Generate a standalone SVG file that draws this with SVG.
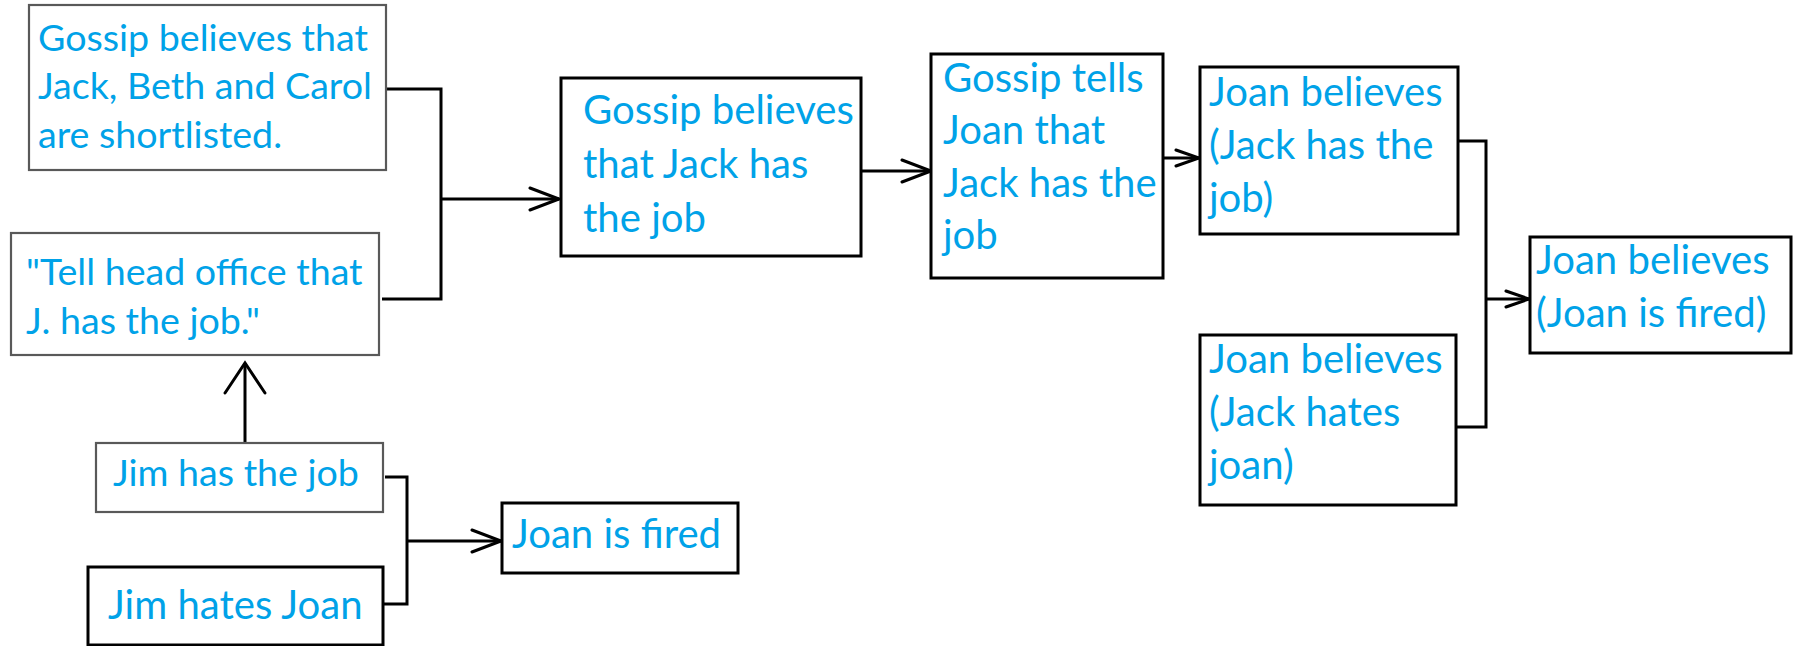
<svg xmlns="http://www.w3.org/2000/svg" width="1795" height="646" viewBox="0 0 1795 646">
<style>
  .bg { fill: #ffffff; }
  .box { fill: #ffffff; stroke: #000000; stroke-width: 3; }
  .box.gray { stroke: #595959; stroke-width: 2.2; }
  .t { font-family: Lato, "Liberation Sans", sans-serif; fill: #00a2e8; }
  .s40 { font-size: 37.6px; }
  .s43 { font-size: 40.1px; }
  .conn { fill: none; stroke: #000000; stroke-width: 3; }
  .head { fill: none; stroke: #000000; stroke-width: 3; stroke-linecap: round; stroke-linejoin: miter; }
</style>
<defs>
  <marker id="arr" markerUnits="userSpaceOnUse" markerWidth="34" markerHeight="28" viewBox="-2 -2 34 28" refX="29" refY="11" orient="auto">
    <path class="head" d="M0,0 L29,11 L0,22"/>
  </marker>
  <marker id="arrS" markerUnits="userSpaceOnUse" markerWidth="28" markerHeight="22" viewBox="-2 -2 28 22" refX="23" refY="8" orient="auto">
    <path class="head" d="M0,0 L23,8 L0,16"/>
  </marker>
  <marker id="arrUp" markerUnits="userSpaceOnUse" markerWidth="36" markerHeight="46" viewBox="-2 -2 36 46" refX="30" refY="20" orient="auto">
    <path class="head" d="M0,0 L30,20 L0,40"/>
  </marker>
</defs>
<rect class="bg" x="0" y="0" width="1795" height="646"/>

<g id="connectors">
  <path class="conn" d="M386,89 H441 V299 H382"/>
  <path class="conn" d="M441,199 H559" marker-end="url(#arr)"/>
  <path class="conn" d="M861,171 H931" marker-end="url(#arr)"/>
  <path class="conn" d="M1163,158 H1199" marker-end="url(#arrS)"/>
  <path class="conn" d="M1458,141 H1486 V427 H1456"/>
  <path class="conn" d="M1486,299 H1529" marker-end="url(#arrS)"/>
  <path class="conn" d="M245,443 V363" marker-end="url(#arrUp)"/>
  <path class="conn" d="M385,477 H407 V604 H383"/>
  <path class="conn" d="M407,541 H501" marker-end="url(#arr)"/>
</g>

<g id="node-gossip-shortlist">
  <rect class="box gray" x="29" y="5" width="357" height="165"/>
  <text class="t s40" x="38" y="51">Gossip believes that</text>
  <text class="t s40" x="38" y="99">Jack, Beth and Carol</text>
  <text class="t s40" x="38" y="148">are shortlisted.</text>
</g>

<g id="node-tell-head-office">
  <rect class="box gray" x="11" y="233" width="368" height="122"/>
  <text class="t s40" x="26" y="285">"Tell head office that</text>
  <text class="t s40" x="26" y="334">J. has the job."</text>
</g>

<g id="node-gossip-believes-jack">
  <rect class="box" x="561" y="78" width="300" height="178"/>
  <text class="t s43" x="583" y="124">Gossip believes</text>
  <text class="t s43" x="583" y="178">that Jack has</text>
  <text class="t s43" x="583" y="232">the job</text>
</g>

<g id="node-gossip-tells-joan">
  <rect class="box" x="931" y="54" width="232" height="224"/>
  <text class="t s43" x="943" y="92">Gossip tells</text>
  <text class="t s43" x="943" y="144">Joan that</text>
  <text class="t s43" x="943" y="197">Jack has the</text>
  <text class="t s43" x="943" y="249">job</text>
</g>

<g id="node-joan-believes-jack-job">
  <rect class="box" x="1200" y="67" width="258" height="167"/>
  <text class="t s43" x="1209" y="106">Joan believes</text>
  <text class="t s43" x="1209" y="159">(Jack has the</text>
  <text class="t s43" x="1209" y="212">job)</text>
</g>

<g id="node-joan-believes-jack-hates">
  <rect class="box" x="1200" y="335" width="256" height="170"/>
  <text class="t s43" x="1209" y="373">Joan believes</text>
  <text class="t s43" x="1209" y="426">(Jack hates</text>
  <text class="t s43" x="1209" y="479">joan)</text>
</g>

<g id="node-joan-believes-fired">
  <rect class="box" x="1530" y="237" width="261" height="116"/>
  <text class="t s43" x="1536" y="274">Joan believes</text>
  <text class="t s43" x="1536" y="327">(Joan is fired)</text>
</g>

<g id="node-jim-has-job">
  <rect class="box gray" x="96" y="443" width="287" height="69"/>
  <text class="t s40" x="113" y="486">Jim has the job</text>
</g>

<g id="node-jim-hates-joan">
  <rect class="box" x="88" y="567" width="295" height="78"/>
  <text class="t s43" x="108" y="619">Jim hates Joan</text>
</g>

<g id="node-joan-fired">
  <rect class="box" x="502" y="503" width="236" height="70"/>
  <text class="t s43" x="512" y="548">Joan is fired</text>
</g>
</svg>
